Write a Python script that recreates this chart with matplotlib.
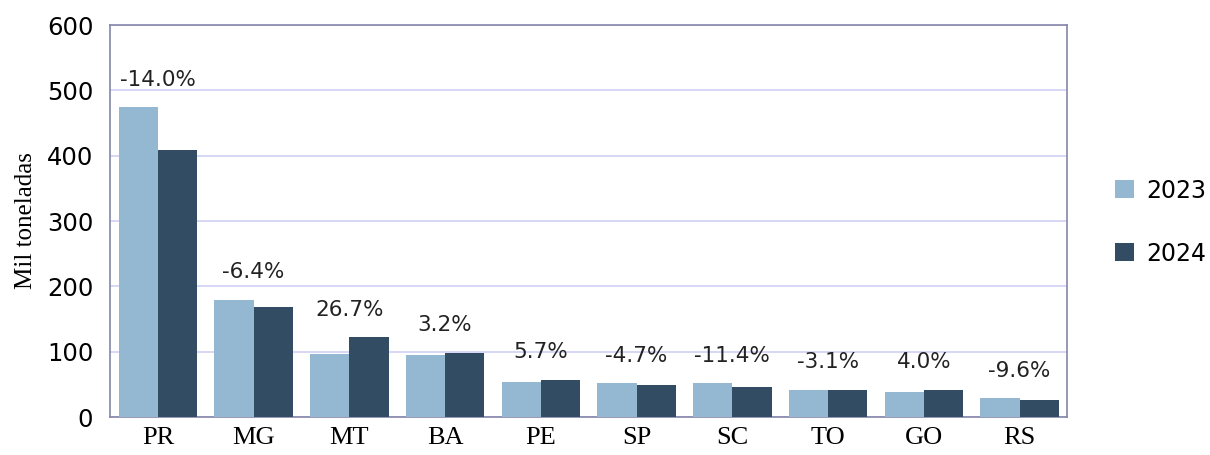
import numpy as np
import matplotlib
matplotlib.use("Agg")
from matplotlib import pyplot as plt

states = ["PR", "MG", "MT", "BA", "PE", "SP", "SC", "TO", "GO", "RS"]
v2023 = [474, 179, 96, 95.5, 54, 51.6, 51.6, 42, 38.9, 28.6]
v2024 = [408, 168, 122, 98.5, 57, 49, 46.5, 40.7, 41.4, 25.8]
pct_labels = ["-14.0%", "-6.4%", "26.7%", "3.2%", "5.7%", "-4.7%", "-11.4%", "-3.1%", "4.0%", "-9.6%"]
years = ["2023", "2024"]

c23 = "#94b8d2"
c24 = "#324d63"

fig = plt.figure(figsize=(12.1, 4.55), dpi=100)
ax = fig.add_axes([0.0909, 0.0835, 0.7913, 0.8615])

x = np.arange(len(states))
w = 0.41
ax.bar(x - w/2, v2023, w, color=c23, label=years[0], zorder=3)
ax.bar(x + w/2, v2024, w, color=c24, label=years[1], zorder=3)

# variation labels above each pair
for i in range(len(states)):
    top = max(v2023[i], v2024[i])
    ax.text(x[i], top + 27, pct_labels[i], ha="center", va="bottom",
            fontsize=15.5, color="#222222", family="DejaVu Sans")

ax.set_xlim(-0.5, len(states) - 0.5)
ax.set_ylim(0, 600)
ax.set_yticks(range(0, 601, 100))
ax.set_xticks(x)
ax.set_xticklabels(states, family="Liberation Serif", fontsize=19)
for t in ax.get_yticklabels():
    t.set_fontsize(17.5)
    t.set_family("DejaVu Sans")
ax.tick_params(axis="both", length=0, pad=7)
ax.tick_params(axis="y", pad=12)
ax.set_ylabel("Mil toneladas", family="Liberation Serif", fontsize=18, labelpad=7)

ax.yaxis.grid(True, color="#cfcff5", linewidth=1.2, zorder=0)
ax.set_axisbelow(True)
for s in ax.spines.values():
    s.set_color("#8585aa")
    s.set_linewidth(1.2)

fig.legend(loc="center left", bbox_to_anchor=(0.906, 0.512), frameon=False,
           fontsize=17, handlelength=0.8, handleheight=0.8,
           labelspacing=1.65, handletextpad=0.5, borderpad=0.3)

fig.savefig("out.png", dpi=100)
